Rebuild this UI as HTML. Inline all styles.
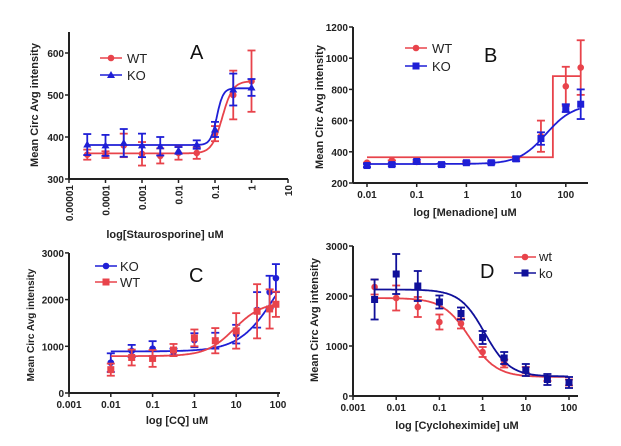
<!DOCTYPE html>
<html><head><meta charset="utf-8"><style>
html,body{margin:0;padding:0;background:#fff;}
svg{display:block;font-family:"Liberation Sans",Arial,sans-serif;}
</style></head><body>
<svg id="s" width="621" height="446" viewBox="0 0 621 446" xmlns="http://www.w3.org/2000/svg">
<g font-weight="bold" font-size="10" fill="#222">
<text transform="translate(38,105) rotate(-90)" text-anchor="middle" font-size="11">Mean Circ Avg intensity</text>
<text x="165" y="238" text-anchor="middle" font-size="11">log[Staurosporine] uM</text>
<text transform="translate(323,107) rotate(-90)" text-anchor="middle" font-size="11">Mean Circ Avg intensity</text>
<text x="465" y="216" text-anchor="middle" font-size="11">log [Menadione] uM</text>
<text transform="translate(34,325) rotate(-90)" text-anchor="middle" font-size="10">Mean Circ Avg intensity</text>
<text x="177" y="424" text-anchor="middle" font-size="11">log [CQ] uM</text>
<text transform="translate(318,320) rotate(-90)" text-anchor="middle" font-size="11">Mean Circ Avg intensity</text>
<text x="457" y="429" text-anchor="middle" font-size="11">log [Cycloheximide] uM</text>
</g>
<g font-size="20" fill="#111">
<text x="190" y="59">A</text><text x="484" y="62">B</text>
<text x="189" y="282">C</text><text x="480" y="278">D</text>
</g>
<g font-size="13" fill="#222">
<text x="127" y="63">WT</text><text x="127" y="80">KO</text>
<text x="432" y="53">WT</text><text x="432" y="71">KO</text>
<text x="120" y="271">KO</text><text x="120" y="287">WT</text>
<text x="539" y="261">wt</text><text x="539" y="278">ko</text>
</g>
<g id="g"></g>
</svg>
<script>
var R="#e8434b",B="#1f1fd6",B2="#10109a";var o="";
function L(a,b,c,d,col,w){o+='<line x1="'+a+'" y1="'+b+'" x2="'+c+'" y2="'+d+'" stroke="'+col+'" stroke-width="'+(w||1.5)+'"/>';}
function T(x,y,t,anc,rot){if(rot)o+='<text transform="translate('+x+','+y+') rotate(-90)" text-anchor="end" font-size="10" font-weight="bold" fill="#222">'+t+'</text>';else o+='<text x="'+x+'" y="'+y+'" text-anchor="'+anc+'" font-size="10" font-weight="bold" fill="#222">'+t+'</text>';}
function mk(x,y,col,sh){if(sh=="c")o+='<circle cx="'+x+'" cy="'+y+'" r="3.3" fill="'+col+'"/>';else if(sh=="s")o+='<rect x="'+(x-3.5)+'" y="'+(y-3.5)+'" width="7" height="7" fill="'+col+'"/>';else o+='<polygon points="'+x+','+(y-4)+' '+(x-4)+','+(y+3)+' '+(x+4)+','+(y+3)+'" fill="'+col+'"/>';}
function panel(P){
 var X=function(l){return P.x0+(l-P.l0)*P.dx;},Y=function(v){return P.y0-(v-P.v0)*P.dy;};
 L(P.ax,P.yt,P.ax,P.yb,"#222",2);L(P.ax,P.yb,P.xe,P.yb,"#222",2);
 P.yticks.forEach(function(v){var y=Y(v);L(P.ax-4,y,P.ax,y,"#222",1.5);T(P.ax-5,y+4,v,"end");});
 P.xticks.forEach(function(t){var x=X(t[0]);L(x,P.yb,x,P.yb+4,"#222",1.5);if(P.rot)T(x+4,P.yb+6,t[1],"",1);else T(x,P.yb+15,t[1],"middle");});
 P.s.forEach(function(s){
  var d="";if(s.step){d="M"+X(s.step[0])+","+Y(s.step[1])+"H"+X(s.step[2])+"V"+Y(s.step[3])+"H"+X(s.step[4]);}
  else for(var l=s.c[0];l<=s.c[1];l+=0.02){var v=s.b+(s.t-s.b)/(1+Math.pow(10,(s.e-l)*s.h));d+=(d?"L":"M")+X(l).toFixed(1)+","+Y(v).toFixed(1);}
  o+='<path d="'+d+'" fill="none" stroke="'+s.col+'" stroke-width="1.8"/>';
  s.p.forEach(function(p){var x=X(p[0]),y1=Y(p[1]-p[2]),y2=Y(p[1]+p[2]);L(x,y1,x,y2,s.col,1.8);L(x-4,y1,x+4,y1,s.col,1.8);L(x-4,y2,x+4,y2,s.col,1.8);mk(x,Y(p[1]),s.col,s.m);});
  L(s.lg[0],s.lg[1],s.lg[0]+22,s.lg[1],s.col,1.5);mk(s.lg[0]+11,s.lg[1],s.col,s.m);
 });
}
panel({x0:69,l0:-5,dx:36.5,y0:179,v0:300,dy:0.42,ax:69,yt:32,yb:179,xe:288,rot:1,yticks:[300,400,500,600],
 xticks:[[-5,"0.00001"],[-4,"0.0001"],[-3,"0.001"],[-2,"0.01"],[-1,"0.1"],[0,"1"],[1,"10"]],
 s:[{col:R,m:"c",b:361,t:533,e:-0.8,h:3,c:[-4.5,0],lg:[100,58],p:[[-4.5,358,12],[-4,358,8],[-3.5,380,28],[-3,360,28],[-2.5,355,18],[-2,362,16],[-1.5,362,14],[-1,408,18],[-0.5,500,58],[0,533,73]]},
    {col:B,m:"t",b:381,t:516,e:-0.95,h:5,c:[-4.5,0],lg:[100,75],p:[[-4.5,382,25],[-4,380,25],[-3.5,386,33],[-3,380,28],[-2.5,378,22],[-2,368,8],[-1.5,382,10],[-1,418,18],[-0.5,513,38],[0,518,20]]}]});
panel({x0:367,l0:-2,dx:49.7,y0:183,v0:200,dy:0.156,ax:353,yt:27,yb:183,xe:588,yticks:[200,400,600,800,1000,1200],
 xticks:[[-2,"0.01"],[-1,"0.1"],[0,"1"],[1,"10"],[2,"100"]],
 s:[{col:R,m:"c",step:[-2,365,1.74,885,2.3],lg:[405,48],p:[[-2,330,0],[-1.5,345,0],[-1,335,0],[0,330,0],[1,355,0],[1.5,500,100],[2,820,125],[2.3,940,175]]},
    {col:B,m:"s",b:322,t:705,e:1.6,h:1.6,c:[-2,2.3],lg:[405,66],p:[[-2,312,10],[-1.5,318,10],[-1,338,10],[-0.5,318,10],[0,330,10],[0.5,330,10],[1,355,15],[1.5,485,40],[2,680,25],[2.3,705,95]]}]});
panel({x0:69,l0:-3,dx:41.8,y0:393,v0:0,dy:0.0467,ax:69,yt:253,yb:393,xe:280,yticks:[0,1000,2000,3000],
 xticks:[[-3,"0.001"],[-2,"0.01"],[-1,"0.1"],[0,"1"],[1,"10"],[2,"100"]],
 s:[{col:B,m:"c",b:890,t:3300,e:1.95,h:1,c:[-2,1.95],lg:[95,266],p:[[-2,650,200],[-1.5,900,130],[-1,950,160],[-0.5,880,70],[0,1130,150],[0.5,1120,170],[1,1260,200],[1.5,1780,380],[1.8,2160,350],[1.95,2460,300]]},
    {col:R,m:"s",b:790,t:1950,e:0.95,h:1.3,c:[-2,1.95],lg:[95,282],p:[[-2,500,130],[-1.5,760,170],[-1,740,180],[-0.5,920,130],[0,1180,180],[0.5,1120,270],[1,1330,380],[1.5,1750,580],[1.8,1800,420],[1.95,1900,270]]}]});
panel({x0:353,l0:-3,dx:43.2,y0:396,v0:0,dy:0.05,ax:353,yt:246,yb:396,xe:578,yticks:[0,1000,2000,3000],
 xticks:[[-3,"0.001"],[-2,"0.01"],[-1,"0.1"],[0,"1"],[1,"10"],[2,"100"]],
 s:[{col:R,m:"c",b:1960,t:380,e:-0.3,h:1.4,c:[-2.5,2],lg:[514,257],p:[[-2.5,2180,150],[-2,1960,250],[-1.5,1780,200],[-1,1480,150],[-0.5,1450,100],[0,880,100],[0.5,650,80],[1,520,60],[1.5,350,50],[2,270,60]]},
    {col:B2,m:"s",b:2130,t:390,e:0.05,h:1.5,c:[-2.5,2],lg:[514,273],p:[[-2.5,1930,400],[-2,2440,400],[-1.5,2200,300],[-1,1880,130],[-0.5,1650,120],[0,1170,130],[0.5,760,120],[1,520,120],[1.5,330,110],[2,270,110]]}]});
document.getElementById("g").innerHTML=o;
</script>
</body></html>
